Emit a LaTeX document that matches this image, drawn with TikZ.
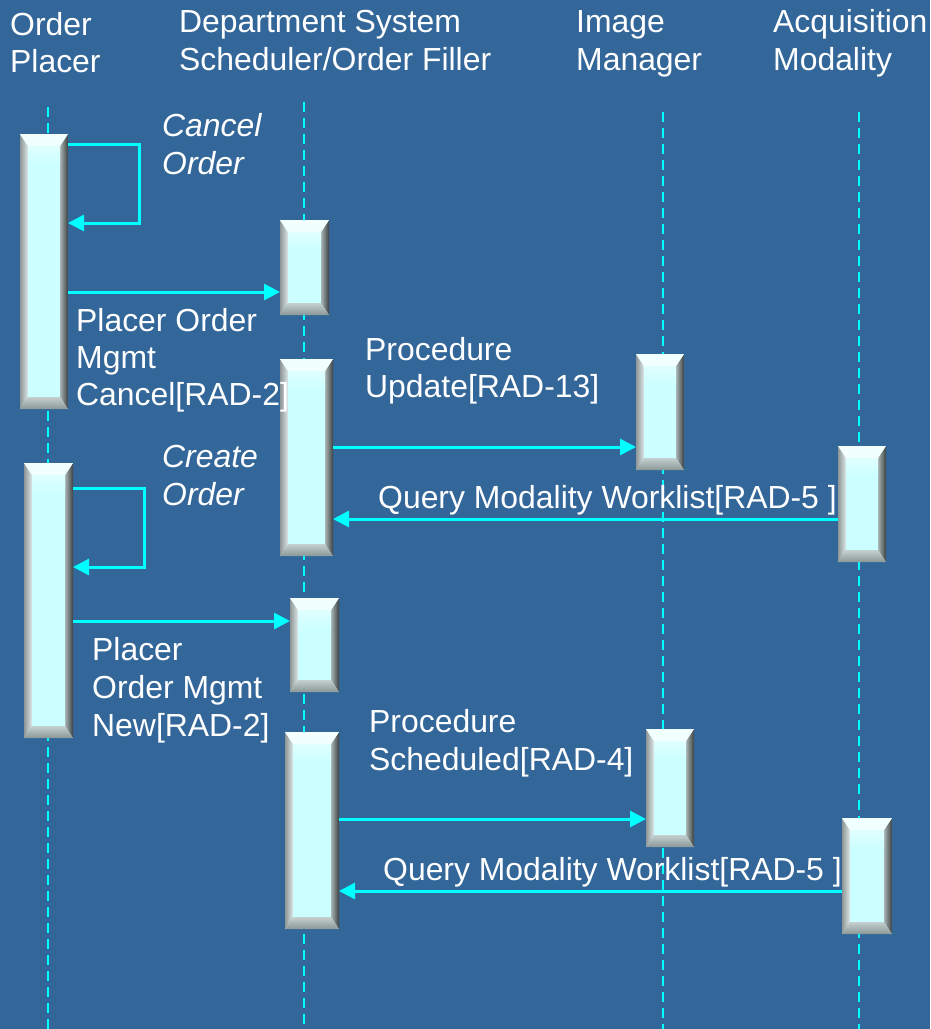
\documentclass[tikz,border=0pt]{standalone}
\usepackage{fontspec}
\setmainfont{Liberation Sans}
\usetikzlibrary{arrows.meta}
\definecolor{bgcol}{HTML}{336699}
\definecolor{life}{HTML}{00FFFF}
\definecolor{barface}{HTML}{CCFFFF}
\definecolor{bevtop}{HTML}{F2FFFF}
\definecolor{bevlo}{HTML}{8E9696}
\definecolor{bevli}{HTML}{DDE8E8}
\definecolor{bevro}{HTML}{3C4040}
\definecolor{bevri}{HTML}{A8B4B4}
\definecolor{bevbt}{HTML}{C4D0D0}
\definecolor{bevbb}{HTML}{8C9898}
\tikzset{
  lifeline/.style={life, line width=2pt, dash pattern=on 10pt off 6pt},
  msg/.style={life, line width=3pt, -{Triangle[length=16pt,width=16pt]}},
  lbl/.style={text=white, inner sep=0pt, anchor=base west, font=\fontsize{31.9}{37}\selectfont},
  ilbl/.style={lbl, font=\fontsize{31.9}{37}\selectfont\itshape},
  bar/.style={rectangle, inner sep=0pt, outer sep=0pt, fill=barface,
    path picture={
      \path (path picture bounding box.north west) coordinate (ppnw)
            (path picture bounding box.north east) coordinate (ppne)
            (path picture bounding box.south west) coordinate (ppsw)
            (path picture bounding box.south east) coordinate (ppse);
      \shade[left color=bevlo, right color=bevli]
        (ppnw) -- ([shift={(8pt,-12pt)}]ppnw) -- ([shift={(8pt,12pt)}]ppsw) -- (ppsw) -- cycle;
      \shade[left color=bevri, right color=bevro]
        (ppne) -- ([shift={(-8pt,-12pt)}]ppne) -- ([shift={(-8pt,12pt)}]ppse) -- (ppse) -- cycle;
      \fill[bevtop]
        (ppnw) -- (ppne) -- ([shift={(-8pt,-12pt)}]ppne) -- ([shift={(8pt,-12pt)}]ppnw) -- cycle;
      \shade[top color=bevbt, bottom color=bevbb]
        (ppsw) -- (ppse) -- ([shift={(-8pt,12pt)}]ppse) -- ([shift={(8pt,12pt)}]ppsw) -- cycle;
      \shade[top color=barface!60!white, bottom color=barface]
        ([shift={(8pt,-12pt)}]ppnw) rectangle ([shift={(-8pt,-30pt)}]ppne);
    }},
}
\begin{document}
\begin{tikzpicture}[x=1pt,y=-1pt]
\fill[bgcol] (0,0) rectangle (930,1029);
\useasboundingbox (0,0) rectangle (930,1029);

% headers
\node[lbl] (h1a) at (10,35) {Order};
\node[lbl] (h1b) at (10,72) {Placer};
\node[lbl] (h2a) at (179,32) {Department System};
\node[lbl] (h2b) at (179,70) {Scheduler/Order Filler};
\node[lbl] (h3a) at (576,32) {Image};
\node[lbl] (h3b) at (576,70) {Manager};
\node[lbl] (h4a) at (773,32) {Acquisition};
\node[lbl] (h4b) at (773,70) {Modality};

% lifelines
\coordinate (opT) at (48,107);  \coordinate (opB) at (48,1029);
\coordinate (dsT) at (304,102); \coordinate (dsB) at (304,1029);
\coordinate (imT) at (663,112); \coordinate (imB) at (663,1029);
\coordinate (amT) at (859,112); \coordinate (amB) at (859,1029);
\draw[lifeline] (opT) -- (opB);
\draw[lifeline] (dsT) -- (dsB);
\draw[lifeline] (imT) -- (imB);
\draw[lifeline] (amT) -- (amB);

% activation bars
\node[bar, minimum width=48pt, minimum height=275pt] (op1) at (44,271.5) {};
\node[bar, minimum width=49pt, minimum height=95pt] (ds1) at (304.5,267.5) {};
\node[bar, minimum width=53pt, minimum height=197pt] (ds2) at (306.5,457.5) {};
\node[bar, minimum width=48pt, minimum height=116pt] (im1) at (660,412) {};
\node[bar, minimum width=48pt, minimum height=116pt] (am1) at (862,504) {};
\node[bar, minimum width=49pt, minimum height=275pt] (op2) at (48.5,600.5) {};
\node[bar, minimum width=49pt, minimum height=94pt] (ds3) at (314.5,645) {};
\node[bar, minimum width=54pt, minimum height=197pt] (ds4) at (312,830.5) {};
\node[bar, minimum width=48pt, minimum height=118pt] (im2) at (670,788) {};
\node[bar, minimum width=50pt, minimum height=116pt] (am2) at (867,876) {};

% first sequence
\draw[msg] (op1.east |- 0,144) -- (139,144) -- (139,223) -- (op1.east |- 0,223);
\node[ilbl] (co1) at (162,136) {Cancel};
\node[ilbl] (co2) at (162,174) {Order};
\draw[msg] (op1.east |- 0,292) -- (ds1.west |- 0,292);
\node[lbl] (pc1) at (76,331) {Placer Order};
\node[lbl] (pc2) at (76,368) {Mgmt};
\node[lbl] (pc3) at (76,405) {Cancel[RAD-2]};
\draw[msg] (ds2.east |- 0,447) -- (im1.west |- 0,447);
\node[lbl] (pu1) at (365,360) {Procedure};
\node[lbl] (pu2) at (365,397) {Update[RAD-13]};
\draw[msg] (am1.west |- 0,519) -- (ds2.east |- 0,519);
\node[lbl] (q1) at (378,508) {Query Modality Worklist[RAD-5 ]};

% second sequence
\draw[msg] (op2.east |- 0,488) -- (144,488) -- (144,567) -- (op2.east |- 0,567);
\node[ilbl] (cr1) at (162,467) {Create};
\node[ilbl] (cr2) at (162,505) {Order};
\draw[msg] (op2.east |- 0,621) -- (ds3.west |- 0,621);
\node[lbl] (pn1) at (92,660) {Placer};
\node[lbl] (pn2) at (92,698) {Order Mgmt};
\node[lbl] (pn3) at (92,736) {New[RAD-2]};
\draw[msg] (ds4.east |- 0,819) -- (im2.west |- 0,819);
\node[lbl] (ps1) at (369,732) {Procedure};
\node[lbl] (ps2) at (369,770) {Scheduled[RAD-4]};
\draw[msg] (am2.west |- 0,891) -- (ds4.east |- 0,891);
\node[lbl] (q2) at (383,880) {Query Modality Worklist[RAD-5 ]};
\end{tikzpicture}
\end{document}
